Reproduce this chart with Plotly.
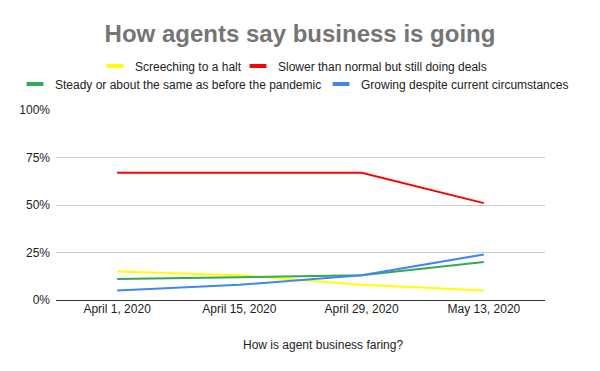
import plotly.graph_objects as go

categories = ["April 1, 2020", "April 15, 2020", "April 29, 2020", "May 13, 2020"]
screeching = [0.15, 0.13, 0.08, 0.05]
slower = [0.67, 0.67, 0.67, 0.51]
steady = [0.11, 0.12, 0.13, 0.20]
growing = [0.05, 0.08, 0.13, 0.24]
y_ticks = [0, 0.25, 0.5, 0.75, 1.0]
y_tick_labels = ["0%", "25%", "50%", "75%", "100%"]

W, H = 600, 371
L, R, T, B = 56, 55, 110, 71
ph = H - T - B
pw = W - L - R

def py(px):
    return (H - B - px) / ph

def px_(x):
    return (x - L) / pw

fig = go.Figure()
# name, values, colour, legend id, legend text start x (px), legend row centre y (px)
series = [
    ("Screeching to a halt", screeching, "#ffff00", "legend", 132, 66),
    ("Slower than normal but still doing deals", slower, "#ff0000", "legend2", 275, 66),
    ("Steady or about the same as before the pandemic", steady, "#34a853", "legend3", 52, 84),
    ("Growing despite current circumstances", growing, "#4285f4", "legend4", 358, 84),
]
legends = {}
for name, vals, color, lg, tx, ty in series:
    fig.add_trace(go.Scatter(x=categories, y=vals, name=name, mode="lines",
                             line=dict(color=color, width=2), legendgroup=name,
                             showlegend=False))
    # legend entry with a short, thick swatch like the original
    fig.add_trace(go.Scatter(x=[None], y=[None], name=name, mode="markers",
                             marker=dict(symbol="line-ew", size=12, color=color,
                                         line=dict(color=color, width=4)),
                             legendgroup=name, legend=lg, showlegend=True,
                             hoverinfo="skip"))
    legends[lg] = dict(orientation="h", x=px_(tx - 37), xanchor="left",
                       y=py(ty), yanchor="middle",
                       font=dict(size=12, color="#222222"), itemwidth=30,
                       bgcolor="rgba(0,0,0,0)", borderwidth=0)

fig.update_layout(
    width=W, height=H,
    margin=dict(l=L, r=R, t=T, b=B, autoexpand=False),
    paper_bgcolor="white", plot_bgcolor="white",
    font=dict(family="Liberation Sans, Arial, sans-serif", size=12, color="#222222"),
    title=dict(text="<b>How agents say business is going</b>", x=0.5, xanchor="center",
               y=1 - 34 / H, yanchor="middle",
               font=dict(size=24, color="#757575")),
    showlegend=True,
    **legends,
)
fig.add_annotation(text="How is agent business faring?", xref="paper", yref="paper",
                   x=px_(323), y=py(345), xanchor="center", yanchor="middle",
                   showarrow=False, font=dict(size=12, color="#222222"))
fig.update_xaxes(showgrid=False, showline=False, ticks="", range=[-0.5, 3.5],
                 tickfont=dict(size=12, color="#222222"))
fig.update_yaxes(range=[0, 1.0], tickvals=y_ticks, ticktext=y_tick_labels,
                 showgrid=True, gridcolor="#cccccc", gridwidth=1,
                 zeroline=True, zerolinecolor="#333333", zerolinewidth=1,
                 tickfont=dict(size=12, color="#222222"), ticks="", ticklabelstandoff=5)
fig.write_html("out.html", config={"displayModeBar": False},
               post_script="document.body.style.margin='0';")
